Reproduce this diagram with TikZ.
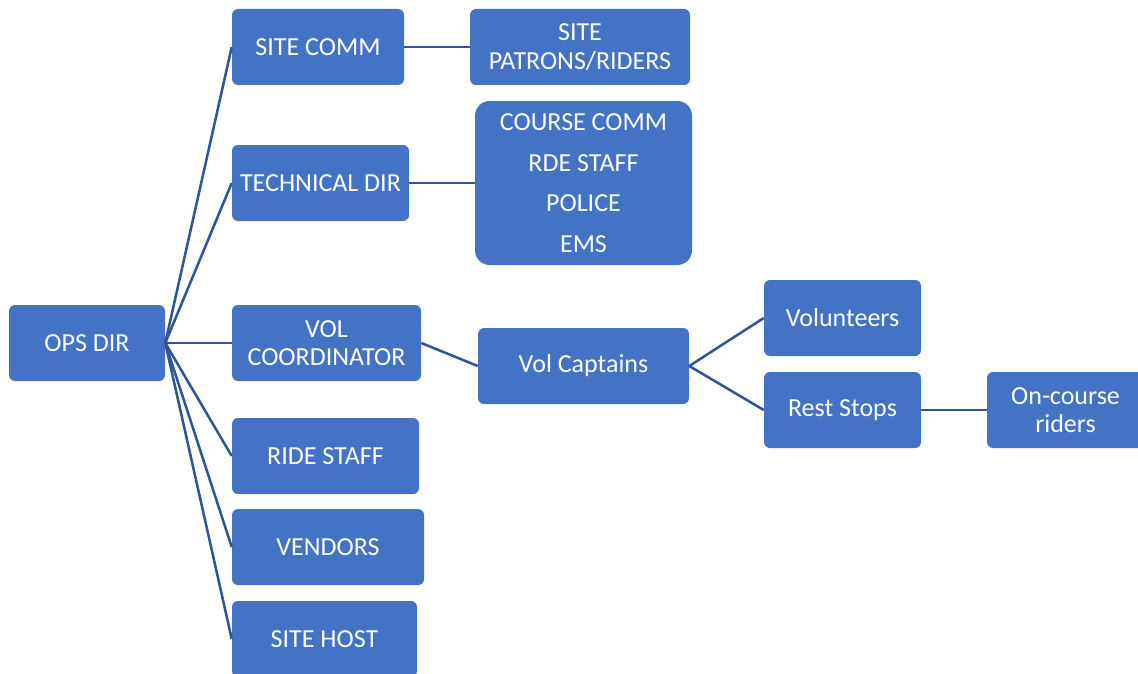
\documentclass[tikz,border=0pt]{standalone}
\usepackage{fontspec}
\setmainfont{Carlito}
\definecolor{boxblue}{RGB}{68,114,196}
\definecolor{lineblue}{RGB}{47,85,151}

\begin{document}
\begin{tikzpicture}[x=0.75pt,y=0.75pt,yscale=-1,xscale=1,
  box/.style={fill=boxblue,rounded corners=4.5pt,text=white,align=center,inner sep=0pt,
    minimum height=57pt,font=\fontsize{19.5}{21.5}\selectfont},
  link/.style={draw=lineblue,line width=1.9pt}]
\useasboundingbox (0,0) rectangle (1138,674);

%Shape: Rounded Rect (root)
\node[box,minimum width=117pt] (opsdir) at (87,343) {OPS DIR};
%Shape: Rounded Rect (first level)
\node[box,minimum width=129pt] (sitecomm) at (318,47) {SITE COMM};
\node[box,minimum width=132.75pt] (techdir) at (320.5,183) {TECHNICAL DIR};
\node[box,minimum width=141.75pt] (volcoord) at (326.5,343) {VOL\\COORDINATOR};
\node[box,minimum width=140.25pt] (ridestaff) at (325.5,456) {RIDE STAFF};
\node[box,minimum width=144pt] (vendors) at (328,547) {VENDORS};
\node[box,minimum width=138.75pt] (sitehost) at (324.5,639) {SITE HOST};
%Shape: Rounded Rect (second level)
\node[box,minimum width=165pt] (patrons) at (580,47) {SITE\\PATRONS/RIDERS};
\node[box,minimum width=162.75pt,minimum height=123pt,rounded corners=11pt,
  font=\fontsize{19.5}{30.5}\selectfont] (coursecomm) at (583.5,183)
  {COURSE COMM\\RDE STAFF\\POLICE\\EMS};
\node[box,minimum width=158.25pt] (volcapt) at (583.5,366) {Vol Captains};
%Shape: Rounded Rect (third level)
\node[box,minimum width=117.75pt] (volunteers) at (842.5,318) {Volunteers};
\node[box,minimum width=117.75pt] (reststops) at (842.5,410) {Rest Stops};
\node[box,minimum width=117.75pt] (oncourse) at (1065.5,410) {On-course\\riders};

%Straight Lines
\foreach \n in {sitecomm,techdir,volcoord,ridestaff,vendors,sitehost}
  \draw[link] (opsdir.east) -- (\n.west);
\draw[link] (sitecomm) -- (patrons);
\draw[link] (techdir) -- (coursecomm);
\draw[link] (volcoord.east) -- (volcapt.west);
\draw[link] (volcapt.east) -- (volunteers.west);
\draw[link] (volcapt.east) -- (reststops.west);
\draw[link] (reststops) -- (oncourse);

\end{tikzpicture}
\end{document}
